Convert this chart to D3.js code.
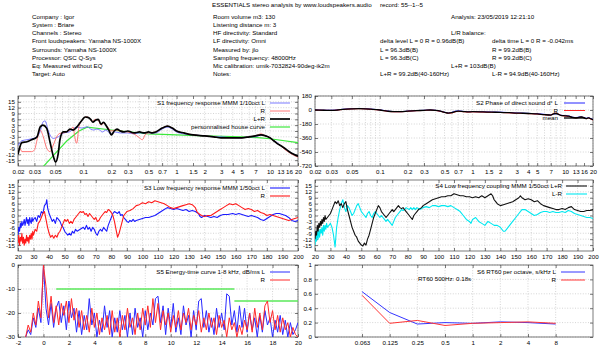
<!DOCTYPE html>
<html><head><meta charset="utf-8">
<script src="https://cdn.jsdelivr.net/npm/d3@7"></script>
<style>
body{margin:0;background:#fff}
svg{display:block}
text{font-family:"Liberation Sans",Arial,sans-serif;font-size:6.2px;fill:#000}
</style>
</head><body>
<svg id="c" width="600" height="350"></svg>
<script>
// ---------------- DATA ----------------
const headerLeft = ["Company : Igor","System : Briare","Channels : Stereo","Front loudspeakers: Yamaha NS-1000X","Surrounds: Yamaha NS-1000X","Processor: QSC Q-Sys","Eq: Measured without EQ","Target: Auto"];
const headerMid = ["Room volume m3: 130","Listening distance m: 3","HF directivity: Standard","LF directivity: Omni","Measured by: jlo","Sampling frequency: 48000Hz","Mic calibration: umik-7032824-90deg-ik2m","Notes:"];

const logTickLabels = ["0.02","0.03","0.05","0.1","0.2","0.3","0.5","0.7","1","1.5","2","3","4","5","7","10","13","16","20"];
const dbTicks = [15,12,9,6,3,0,-3,-6,-9,-12,-15];
const phaseTicks = [180,0,-180,-360,-540,-720];
const lfTicks = [20,30,40,50,60,70,80,90,100,110,120,130,140,150,160,170,180,190,200];
const etcXTicks = [-2,0,2,4,6,8,10,12,14,16,18,20];
const etcYTicks = [0,-10,-20,-30];
const rtYTicks = [0,0.2,0.4,0.6,0.8,1];
const octaves = ["0.063","0.125","0.25","0.5","1","2","4","8"];

// S1 frequency response [kHz, dB]
const s1L = [[0.02,-7.5],[0.022,-5],[0.025,-4.5],[0.028,-4],[0.032,-3],[0.0345,-0.3],[0.0373,4.8],[0.039,5.2],[0.042,0.5],[0.044,-2],[0.0478,-3.8],[0.054,-3],[0.061,-1.2],[0.072,-0.3],[0.085,2],[0.097,1.5],[0.11,2.2],[0.12,1],[0.13,0.5],[0.14,1],[0.15,0.5],[0.16,-0.5],[0.175,0.5],[0.19,-1],[0.2,-1.5],[0.22,-0.5],[0.25,-1],[0.3,-1],[0.35,-1.5],[0.4,-1],[0.5,-1],[0.6,-1],[0.7,1],[0.8,2],[0.9,1],[1,-0.5],[1.2,-1.5],[1.5,-2],[2,-2.5],[2.5,-3],[3,-3],[4,-3.5],[5,-3.5],[6,-3],[7,-3],[8,-2],[9,-2.5],[10,-3.5],[11,-5],[12,-6],[13,-7.5],[14,-8.5],[16,-10.5],[18,-12],[20,-13]];
const s1R = [[0.02,-11.4],[0.021,-9],[0.022,-10.6],[0.025,-10.6],[0.028,-10.6],[0.03,-9.8],[0.032,-4.6],[0.0344,0.5],[0.0373,-2.9],[0.0406,-8.9],[0.044,-10.6],[0.0478,-7.2],[0.052,-2.9],[0.0563,-1.2],[0.061,-1],[0.072,0.5],[0.078,2],[0.081,-2.9],[0.085,-6.3],[0.09,2.2],[0.097,5.7],[0.109,7.3],[0.117,6.5],[0.125,5],[0.135,6],[0.145,5.5],[0.155,3],[0.165,4],[0.18,2.5],[0.2,0],[0.22,0.5],[0.25,0],[0.3,-0.5],[0.35,-1.5],[0.4,-3.5],[0.43,-4.5],[0.46,-2],[0.5,-1],[0.6,-0.5],[0.7,1.5],[0.8,2.5],[0.9,1.5],[1,0],[1.2,-1],[1.5,-2],[2,-2.5],[2.5,-3],[3,-3.5],[4,-3.5],[5,-3.5],[6,-3],[7,-2.5],[8,-1.5],[9,-2.5],[10,-3.5],[11,-5],[12,-6.5],[13,-7.5],[14,-9],[16,-11],[18,-12.5],[20,-13.5]];
const s1LR = [[0.02,-12],[0.022,-6],[0.025,-5.5],[0.028,-4.5],[0.032,-3],[0.0345,2],[0.037,3],[0.0405,1.5],[0.044,-5.5],[0.0478,-13],[0.0506,-16],[0.054,-11.5],[0.0563,-4.5],[0.061,-0.5],[0.066,-0.5],[0.072,1],[0.078,0.5],[0.085,2],[0.09,3.5],[0.097,5.5],[0.105,7.2],[0.112,7],[0.12,6],[0.127,4.5],[0.135,5.5],[0.145,6],[0.155,3.5],[0.165,4.5],[0.175,3],[0.19,0],[0.2,-2],[0.215,0],[0.23,1],[0.25,0],[0.27,-0.5],[0.3,0],[0.35,-1],[0.4,-0.5],[0.45,-1],[0.5,-0.5],[0.55,-1],[0.6,-0.5],[0.7,1.5],[0.8,2.5],[0.9,1.5],[1,0],[1.2,-1],[1.5,-2],[2,-2.5],[2.5,-3],[3,-3.5],[4,-3.5],[5,-3.5],[6,-3],[7,-2.5],[8,-2],[9,-2.5],[10,-3.5],[11,-5],[12,-6.5],[13,-7.5],[14,-8.5],[16,-10.5],[18,-12],[20,-13]];
const s1House = [[0.037,-18.5],[0.048,-12.5],[0.067,-5],[0.09,0],[0.11,2],[0.2,0.5],[0.5,-1.5],[1,-2],[2,-2.5],[5,-3],[8,-3.5],[10,-4],[20,-6]];

// S2 phase [kHz, deg]
const s2L = [[0.02,2],[0.025,-2],[0.03,-3],[0.035,2],[0.04,10],[0.05,17],[0.06,20],[0.07,17],[0.08,12],[0.1,2],[0.12,-12],[0.14,-20],[0.17,-21],[0.2,-14],[0.25,-7],[0.3,-4],[0.35,1],[0.4,-4],[0.45,-14],[0.5,-28],[0.55,-38],[0.6,-30],[0.65,-15],[0.7,-12],[0.8,-18],[0.9,-22],[1,-20],[1.3,-23],[1.6,-26],[2,-28],[2.5,-33],[3,-38],[3.5,-40],[4,-43],[5,-48],[6,-56],[7,-62],[7.5,-52],[8,-48],[8.5,-58],[9,-68],[10,-72],[11,-78],[12,-92],[13,-97],[14,-92],[15,-88],[16,-98],[17,-106],[18,-98],[19,-112],[20,-120]];
const s2R = [[0.02,-1],[0.025,-4],[0.03,-6],[0.035,-1],[0.04,7],[0.05,14],[0.06,17],[0.07,14],[0.08,9],[0.1,-1],[0.12,-16],[0.14,-23],[0.17,-23],[0.2,-16],[0.25,-9],[0.3,-6],[0.35,-1],[0.4,-6],[0.45,-16],[0.5,-31],[0.55,-41],[0.6,-38],[0.65,-24],[0.7,-18],[0.8,-22],[0.9,-27],[1,-24],[1.3,-27],[1.6,-30],[2,-32],[2.5,-37],[3,-42],[3.5,-44],[4,-47],[5,-52],[6,-62],[7,-66],[7.5,-45],[8,-40],[8.5,-52],[9,-70],[10,-78],[11,-82],[12,-98],[13,-102],[14,-98],[15,-92],[16,-102],[17,-112],[18,-103],[19,-118],[20,-128]];
const s2Mean = [[0.02,0],[0.025,-3],[0.03,-5],[0.035,0],[0.04,8],[0.05,15],[0.06,18],[0.07,15],[0.08,10],[0.1,0],[0.12,-15],[0.14,-22],[0.17,-22],[0.2,-15],[0.25,-8],[0.3,-5],[0.35,0],[0.4,-5],[0.45,-15],[0.5,-30],[0.55,-40],[0.6,-35],[0.65,-20],[0.7,-15],[0.8,-20],[0.9,-25],[1,-22],[1.3,-25],[1.6,-28],[2,-30],[2.5,-35],[3,-40],[3.5,-42],[4,-45],[5,-50],[6,-60],[7,-65],[7.5,-50],[8,-45],[8.5,-55],[9,-70],[10,-75],[11,-80],[12,-95],[13,-100],[14,-95],[15,-90],[16,-100],[17,-110],[18,-100],[19,-115],[20,-125]];

// S3 low frequency response [Hz, dB]
const s3L = [[20,-10],[20.5,-6],[21,-8],[21.5,-4],[22,-6],[22.5,-3],[23,-5],[23.5,-4],[24,-2],[24.5,-5],[25,-3],[25.5,-1],[26,-4],[26.5,-2],[27,-5],[27.5,-1],[28,-3],[28.5,-4],[29,-1],[29.5,-3],[30,-2],[31,-1],[32,-3],[33,0],[34,-1],[35,2],[36,1],[37,5],[38,6],[38.5,8],[39,4],[40,1],[41,-1],[42,-3],[43,-2],[44,-4],[45,-1],[46,-2],[47,-3],[48,-5],[49,-6],[50,-8],[51,-9],[52,-10],[53,-9],[54,-10],[55,-8],[56,-9],[57,-7],[58,-8],[60,-7],[62,-6],[63,-7],[64,-5],[65,-7],[66,-6],[67,-8],[68,-6],[69,-7],[70,-9],[71,-10],[72,-8],[73,-7],[74,-8],[75,-6],[76,-7],[77,-8],[78,-5],[79,-3],[80,-1],[81,1],[82,2],[83,1.5],[84,1],[85,2],[86,0],[87,0.5],[88,-1],[89,-2],[90,-3],[91,-3.5],[92,-2.5],[93,-3],[94,-2],[95,-3],[96,-2.5],[98,-2],[100,-1.5],[102,-1],[104,-1],[106,-0.5],[108,0],[110,1],[112,2],[114,3],[116,4],[118,3.5],[120,3],[122,3.5],[124,3],[126,2.5],[128,3],[130,2],[132,2.5],[134,2],[136,1],[137,-0.5],[138,-1],[140,0],[142,-0.5],[144,-1],[146,-0.5],[148,-1],[150,0],[152,0.5],[155,0.5],[158,1],[160,0.5],[162,1],[164,0.5],[166,0],[168,-0.5],[170,0],[172,-0.5],[174,-1],[176,-2],[178,-2.5],[180,-1.5],[182,-0.5],[184,0.5],[186,1],[188,1],[190,0.5],[192,0],[194,-1],[196,-2.5],[198,-3],[200,-2.5]];
const s3R = [[20,-14],[20.5,-10],[21,-15],[21.5,-11],[22,-13],[22.5,-9],[23,-14],[23.5,-11],[24,-15],[24.5,-12],[25,-14],[25.5,-10],[26,-13],[26.5,-11],[27,-14],[27.5,-10],[28,-12],[28.5,-9],[29,-12],[29.5,-8],[30,-10],[31,-7],[32,-8],[33,-4],[34,-3],[35,-1],[36,1],[37,2],[38,-2],[39,-6],[40,-9],[41,-11],[42,-10],[43,-11.5],[44,-10],[45,-11],[46,-9],[47,-8],[48,-6],[49,-4],[50,-2],[51,-3],[52,-2],[53,-4],[54,-3],[55,-4],[56,-2],[57,-1],[58,0],[59,1],[60,2],[61,1.5],[62,2],[63,0.5],[64,1],[65,-0.5],[66,1],[67,0],[68,-1],[69,-2],[70,-1],[71,-3],[72,-2.5],[73,-1],[74,0],[75,1],[76,2],[77,1.5],[78,3],[79,2.5],[80,1.5],[81,0],[82,-3],[83,-7],[84,-11],[85,-9],[86,-6],[87,-3],[88,0],[89,1],[90,2],[92,2.5],[94,3.5],[96,5],[98,5.5],[100,6.5],[102,6],[104,7],[106,6.5],[108,7.5],[110,7],[112,6.5],[114,6],[116,5],[118,4],[120,3.5],[122,4],[124,4.5],[126,5],[128,5.5],[130,6],[132,5.5],[134,4],[135,2],[136,1],[138,0],[140,-0.5],[142,0],[144,0],[146,1],[148,2],[150,3],[152,4],[154,5],[156,6],[158,5.5],[160,6],[162,5],[164,4],[166,3],[168,3.5],[170,3],[172,2],[174,2.5],[176,1.5],[178,1],[180,0],[182,0.5],[184,0],[186,-0.5],[188,-1],[190,-1.5],[192,-2],[194,-2.5],[196,-2],[198,-1.5],[200,-1]];

// S4 low frequency coupling [Hz, dB]
const s4Sum = [[20,-12],[20.5,-8],[21,-10],[21.5,-5],[22,-8],[22.5,-4],[23,-6],[23.5,-3],[24,-5],[24.5,-2],[25,-4],[25.5,-1],[26,-3],[26.5,0],[27,-2],[28,-1],[29,0],[30,1],[31,3],[32,5],[33,7],[34,6],[35,7.5],[36,5],[37,6],[38,4],[39,6],[40,7],[41,3],[42,0],[43,-3],[44,-6],[45,-8],[46,-10],[47,-11],[48,-13],[49,-14],[50,-15],[51,-15.5],[52,-14],[53,-15],[54,-12],[55,-10],[56,-7],[57,-4],[58,-1],[59,1],[60,3],[61,5],[62,4],[63,2],[64,1],[65,0],[66,-1],[67,0],[68,1],[69,2],[70,3],[71,2],[72,3],[73,4],[74,5],[75,4],[76,3.5],[77,4],[78,3],[79,2],[80,1],[81,0],[82,-1],[83,-2],[84,0],[85,1],[86,2],[87,3],[88,3.5],[89,4],[90,5],[92,6],[94,7],[96,8],[98,8.5],[100,9],[102,9.5],[104,9.5],[106,10],[108,10],[110,11],[112,10.5],[114,10],[116,10],[118,9.5],[120,9.5],[122,9],[124,9.5],[126,9],[128,10],[130,9],[132,10],[134,11],[135,10],[136,8],[137,7],[138,6],[140,5],[142,5.5],[144,6],[146,6.5],[148,7],[150,8],[152,9],[153,10],[154,9],[156,8],[158,8.5],[160,8],[162,7],[164,7.5],[166,6],[168,5],[170,4.5],[172,4],[174,3.5],[176,3],[178,3],[180,3.5],[182,3],[184,4],[186,4.5],[188,3],[190,2.5],[192,2],[194,2],[196,2.5],[198,2.5],[200,3]];
const s4Diff = [[20,-15],[20.5,-10],[21,-13],[21.5,-8],[22,-12],[22.5,-7],[23,-11],[23.5,-7],[24,-9],[24.5,-6],[25,-10],[25.5,-5],[26,-8],[26.5,-5],[27,-7],[27.5,-4],[28,-6],[29,-5],[30,-4],[31,-6],[32,-10],[33,-16],[34,-6],[35,-1],[36,3],[37,6],[38,8],[39,4],[40,2],[41,5],[42,4],[43,2],[44,0],[45,1],[46,3],[47,5],[48,6],[49,4],[50,2],[51,1],[52,0],[53,-1],[54,1],[55,2],[56,0],[57,-1],[58,1],[59,2],[60,1],[61,0],[62,-1],[63,0],[64,-1],[65,-2],[66,-3],[67,-2],[68,-3],[69,-4],[70,-5],[71,-3],[72,-1],[73,0],[74,1],[75,2],[76,3],[77,2.5],[78,3],[79,4],[80,3.5],[81,3],[82,4],[83,3],[84,4],[85,3],[86,4],[88,3],[90,4],[92,4.5],[94,4],[96,5],[98,5],[100,4.5],[102,5],[104,5],[106,4.5],[108,5],[110,4],[112,3],[114,2],[116,0],[118,-2],[120,-3],[121,-4],[122,-2],[124,-1],[126,-3],[128,-4],[130,-5],[132,-3],[134,-4],[136,-5],[138,-5],[140,-6],[142,-8],[143,-8],[144,-7],[146,-5],[148,-3],[150,-1],[152,1],[154,3],[156,3],[158,2],[160,1],[162,0],[164,0.5],[166,1.5],[168,2],[170,2],[172,1.5],[174,2],[176,1.5],[178,1.5],[180,2],[182,1.5],[184,2.5],[186,2],[188,1],[190,0.5],[192,0],[194,-0.5],[196,-1],[198,-1],[200,-1.5]];

// S5 energy-time curve: time axis [ms] and levels [dB]
const s5Time = d3.range(-1.4, 20.01, 0.2);
const s5L = [-30,-27,-29,-22,-26,-18,-24,0,-18,-25,-16,-26,-18,-15,-24,-17,-27,-15,-22,-18,-28,-19,-29,-21,-27,-14,-25,-20,-30,-23,-28,-17,-26,-19,-30,-22,-28,-19,-27,-21,-30,-20,-29,-18,-26,-22,-30,-19,-27,-20,-25,-14,-13,-24,-17,-29,-18,-26,-16,-28,-22,-29,-17,-25,-21,-30,-19,-27,-15,-14,-26,-19,-28,-22,-29,-18,-26,-20,-27,-12,-13,-25,-19,-28,-17,-26,-18,-28,-20,-27,-22,-30,-21,-28,-19,-25,-22,-30,-23,-28,-21,-29,-23,-30,-24,-29,-27,-24];
const s5R = [-30,-25,-28,-20,-25,-15,-22,0,-9,-22,-13,-24,-17,-25,-16,-21,-15,-24,-14,-23,-18,-26,-19,-27,-21,-28,-18,-26,-20,-29,-22,-27,-21,-29,-19,-28,-22,-30,-21,-27,-18,-26,-22,-29,-20,-27,-18,-25,-17,-26,-14,-24,-16,-27,-19,-25,-20,-28,-21,-26,-19,-27,-20,-24,-18,-27,-21,-25,-19,-28,-22,-27,-20,-26,-22,-29,-21,-26,-23,-30,-22,-27,-24,-30,-25,-29,-23,-27,-20,-28,-18,-26,-20,-27,-17,-15,-24,-19,-27,-21,-28,-22,-27,-24,-30,-26,-29,-30];
const s5TargetA = [[1,-10],[15,-10]];
const s5TargetB = [[15,-15],[20,-15]];

// S6 RT60 per octave [s]
const s6L = [0.63,0.34,0.18,0.2,0.19,0.21,0.2,0.18];
const s6R = [0.58,0.19,0.23,0.16,0.19,0.2,0.21,0.19];

// ---------------- DRAW ----------------
const svg = d3.select("#c");
const FONT = 6.2;
const RX0 = 315, RX1 = 593;   // right-column plot extent

function txt(x, y, s, anchor) {
  return svg.append("text").attr("x", x).attr("y", y).attr("dy", "0.35em")
    .attr("text-anchor", anchor || "start").text(s);
}

// header
txt(212, 5, "ESSENTIALS stereo analysis by www.loudspeakers.audio");
txt(380, 5, "record: 55--1--5");
headerLeft.forEach((s, i) => txt(32, 17 + i * 8.1, s));
headerMid.forEach((s, i) => txt(213, 17 + i * 8.1, s));
txt(451, 17, "Analysis: 23/05/2019 12:21:10");
txt(451, 33.2, "L/R balance:");
txt(380, 41.3, "delta level L = 0  R = 0.96dB(B)");
txt(492, 41.3, "delta time  L = 0  R = -0.042ms");
txt(380, 49.4, "L = 96.3dB(B)");
txt(492, 49.4, "R = 99.2dB(B)");
txt(380, 57.5, "L = 96.3dB(C)");
txt(492, 57.5, "R = 99.2dB(C)");
txt(451, 65.6, "L+R = 103dB(B)");
txt(380, 73.7, "L+R = 99.2dB(40-160Hz)");
txt(492, 73.7, "L-R = 94.9dB(40-160Hz)");

let clipId = 0;
function panel(o) {
  const g = svg.append("g");
  const x0 = o.x.range()[0], x1 = o.x.range()[1];
  const yb = o.y.range()[0], yt = o.y.range()[1];
  const id = "clip" + (clipId++);
  g.append("clipPath").attr("id", id).append("rect")
    .attr("x", x0).attr("y", yt).attr("width", x1 - x0).attr("height", yb - yt);
  g.append("g").selectAll("line").data(o.gridX).join("line")
    .attr("x1", d => o.x(d)).attr("x2", d => o.x(d)).attr("y1", yt).attr("y2", yb)
    .attr("stroke", "#b8b8b8").attr("stroke-width", 0.6).attr("stroke-dasharray", "1,1.6");
  g.append("g").selectAll("line").data(o.gridY).join("line")
    .attr("x1", x0).attr("x2", x1).attr("y1", d => o.y(d)).attr("y2", d => o.y(d))
    .attr("stroke", "#b8b8b8").attr("stroke-width", 0.6).attr("stroke-dasharray", "1,1.6");
  const ax = (gen, tx, ty) => {
    const a = g.append("g").attr("transform", `translate(${tx},${ty})`).call(gen);
    a.select(".domain").remove();
    a.attr("font-size", FONT).attr("font-family", '"Liberation Sans",Arial,sans-serif');
    a.selectAll("line").attr("stroke", "#222").attr("stroke-width", 0.6);
    return a;
  };
  ax(d3.axisBottom(o.x).tickValues(o.xTicks).tickFormat(o.xFmt).tickSize(-3).tickPadding(3.5), 0, yb);
  ax(d3.axisTop(o.x).tickValues(o.xTicks).tickFormat("").tickSize(-3), 0, yt);
  ax(d3.axisLeft(o.y).tickValues(o.yTicks).tickFormat(o.yFmt).tickSize(-3).tickPadding(3), x0, 0);
  ax(d3.axisRight(o.y).tickValues(o.yTicks).tickFormat("").tickSize(-3), x1, 0);
  g.append("rect").attr("x", x0).attr("y", yt).attr("width", x1 - x0).attr("height", yb - yt)
    .attr("fill", "none").attr("stroke", "#444").attr("stroke-width", 0.7);
  const plot = g.append("g").attr("clip-path", `url(#${id})`);
  o.series.forEach(s => {
    const line = d3.line().x(d => o.x(d[0])).y(d => o.y(d[1])).curve(s.curve || d3.curveLinear);
    plot.append("path").datum(s.data).attr("d", line).attr("fill", "none")
      .attr("stroke", s.color).attr("stroke-width", s.width).attr("stroke-linejoin", "round");
  });
  (o.legend || []).forEach(l => {
    txt(l.tx, l.y, l.label, "end");
    if (l.color) svg.append("line").attr("x1", l.lx0).attr("x2", l.lx1).attr("y1", l.y).attr("y2", l.y)
      .attr("stroke", l.color).attr("stroke-width", l.width);
  });
  return g;
}

const fmt = d => String(d);
const logGrid = [];
[0.01, 0.1, 1, 10].forEach(dec => { for (let k = 1; k <= 9; k++) { const v = +(dec * k).toPrecision(3); if (v >= 0.02 && v <= 20) logGrid.push(v); } });
const logTicks = logTickLabels.map(Number);

// S1
const x1s = d3.scaleLog().domain([0.02, 20]).range([18, 298]);
const y1s = d3.scaleLinear().domain([-18, 18]).range([166, 96]);
panel({
  x: x1s, y: y1s, xTicks: logTicks, xFmt: (d, i) => logTickLabels[i], yTicks: dbTicks, yFmt: fmt,
  gridX: logGrid, gridY: dbTicks,
  series: [
    {data: s1House, color: "#3de83d", width: 1.2},
    {data: s1L, color: "#6b6bff", width: 0.9, curve: d3.curveMonotoneX},
    {data: s1R, color: "#ff6868", width: 0.9, curve: d3.curveMonotoneX},
    {data: s1LR, color: "#000", width: 1.7, curve: d3.curveMonotoneX}
  ],
  legend: [
    {label: "S1   frequency response MMM 1/10oct L", tx: 265, y: 103, lx0: 270, lx1: 290, color: "#6b6bff", width: 0.9},
    {label: "R", tx: 265, y: 111, lx0: 270, lx1: 290, color: "#ff6868", width: 0.9},
    {label: "L+R", tx: 265, y: 119, lx0: 270, lx1: 290, color: "#000", width: 1.7},
    {label: "personnalised house curve", tx: 265, y: 127, lx0: 270, lx1: 290, color: "#3de83d", width: 1.2}
  ]
});

// S2
const x2s = d3.scaleLog().domain([0.02, 20]).range([RX0, RX1]);
const y2s = d3.scaleLinear().domain([-720, 180]).range([166, 96]);
panel({
  x: x2s, y: y2s, xTicks: logTicks, xFmt: (d, i) => logTickLabels[i], yTicks: phaseTicks, yFmt: fmt,
  gridX: logGrid, gridY: phaseTicks,
  series: [
    {data: s2L, color: "#2424ff", width: 1, curve: d3.curveMonotoneX},
    {data: s2R, color: "#ff2424", width: 1, curve: d3.curveMonotoneX},
    {data: s2Mean, color: "#000", width: 1.3, curve: d3.curveMonotoneX}
  ],
  legend: [
    {label: "S2   Phase of direct sound d°  L", tx: 558, y: 103, lx0: 564, lx1: 585, color: "#2424ff", width: 1},
    {label: "R", tx: 558, y: 110.5, lx0: 564, lx1: 585, color: "#ff2424", width: 1},
    {label: "mean", tx: 558, y: 118, lx0: 564, lx1: 585, color: "#000", width: 1.3}
  ]
});

// S3
const x3s = d3.scaleLinear().domain([20, 200]).range([18, 298]);
const y3s = d3.scaleLinear().domain([-18, 18]).range([251, 180]);
panel({
  x: x3s, y: y3s, xTicks: lfTicks, xFmt: fmt, yTicks: dbTicks, yFmt: fmt,
  gridX: lfTicks, gridY: dbTicks,
  series: [
    {data: s3L, color: "#1a1aff", width: 1.1},
    {data: s3R, color: "#ff1a1a", width: 1.1}
  ],
  legend: [
    {label: "S3   Low frequency response MMM  1/50oct  L", tx: 265, y: 188, lx0: 270, lx1: 290, color: "#1a1aff", width: 1.1},
    {label: "R", tx: 265, y: 196, lx0: 270, lx1: 290, color: "#ff1a1a", width: 1.1}
  ]
});

// S4
const x4s = d3.scaleLinear().domain([20, 200]).range([RX0, RX1]);
const y4s = d3.scaleLinear().domain([-18, 18]).range([251, 180]);
panel({
  x: x4s, y: y4s, xTicks: lfTicks, xFmt: fmt, yTicks: dbTicks, yFmt: fmt,
  gridX: lfTicks, gridY: dbTicks,
  series: [
    {data: s4Diff, color: "#00e8f0", width: 1.1},
    {data: s4Sum, color: "#111", width: 1.1}
  ],
  legend: [
    {label: "S4   Low frequency coupling MMM  1/50oct L+R", tx: 562, y: 186, lx0: 566, lx1: 587, color: "#111", width: 1.1},
    {label: "L-R", tx: 562, y: 194, lx0: 566, lx1: 587, color: "#00e8f0", width: 1.1}
  ]
});

// S5
const x5s = d3.scaleLinear().domain([-2, 20]).range([18, 298]);
const y5s = d3.scaleLinear().domain([-30, 0]).range([337, 265]);
panel({
  x: x5s, y: y5s, xTicks: etcXTicks, xFmt: fmt, yTicks: etcYTicks, yFmt: fmt,
  gridX: etcXTicks, gridY: etcYTicks,
  series: [
    {data: s5TargetA, color: "#5ae85a", width: 1.4},
    {data: s5TargetB, color: "#5ae85a", width: 1.4},
    {data: s5Time.map((t, i) => [t, s5L[i]]), color: "#2a2aff", width: 1},
    {data: s5Time.map((t, i) => [t, s5R[i]]), color: "#ff2a2a", width: 1}
  ],
  legend: [
    {label: "S5   Energy-time curve 1-8 kHz, dB/ms  L", tx: 265, y: 272, lx0: 270, lx1: 290, color: "#2a2aff", width: 1},
    {label: "R", tx: 265, y: 280, lx0: 270, lx1: 290, color: "#ff2a2a", width: 1}
  ]
});

// S6
const x6s = d3.scaleLinear().domain([-1.7, 8.35]).range([RX0, RX1]);
const y6s = d3.scaleLinear().domain([0, 1]).range([337, 265]);
const octIdx = octaves.map((d, i) => i);
panel({
  x: x6s, y: y6s, xTicks: octIdx, xFmt: (d, i) => octaves[i], yTicks: rtYTicks, yFmt: fmt,
  gridX: octIdx, gridY: rtYTicks,
  series: [
    {data: s6L.map((v, i) => [i, v]), color: "#3535ff", width: 1},
    {data: s6R.map((v, i) => [i, v]), color: "#ff3535", width: 1}
  ],
  legend: [
    {label: "S6   RT60 per octave, s/kHz L", tx: 556, y: 272, lx0: 561, lx1: 585, color: "#3535ff", width: 1},
    {label: "R", tx: 556, y: 280, lx0: 561, lx1: 585, color: "#ff3535", width: 1}
  ]
});
txt(418, 279, "RT60 500Hz: 0.18s");
</script>
</body></html>
